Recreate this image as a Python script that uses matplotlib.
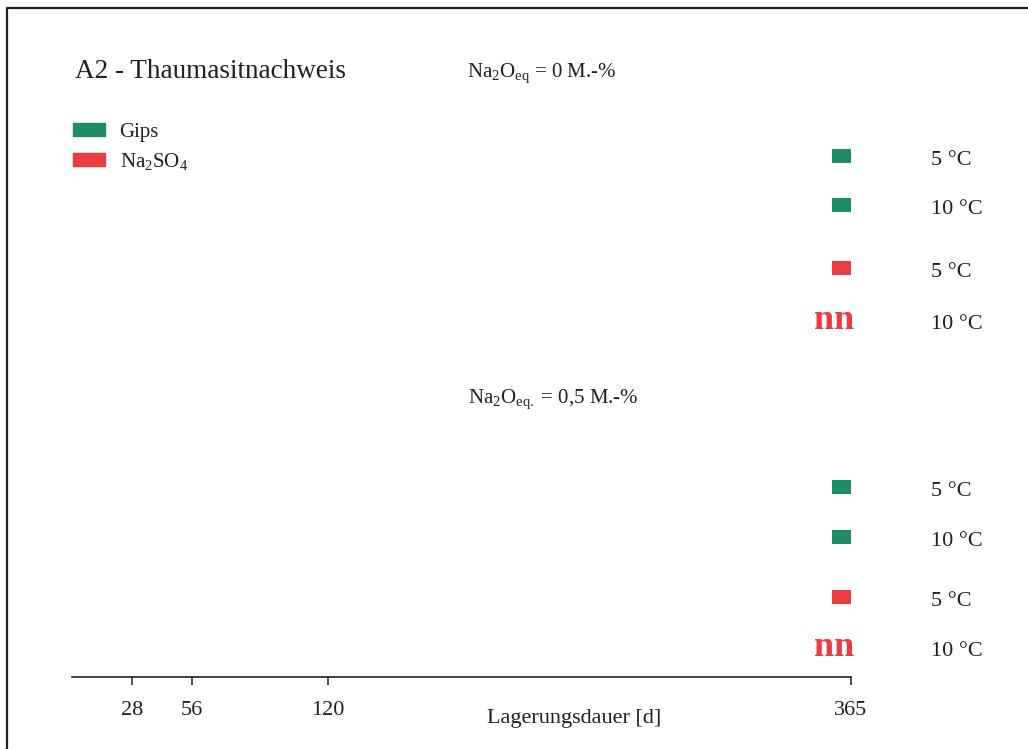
import numpy as np
import matplotlib.pyplot as plt
from matplotlib.lines import Line2D
from matplotlib.patches import Patch
import matplotlib.transforms as mtransforms

plt.rcParams['font.family'] = ['Liberation Serif', 'DejaVu Serif']
plt.rcParams['mathtext.fontset'] = 'custom'
plt.rcParams['mathtext.rm'] = 'Liberation Serif'
plt.rcParams['mathtext.it'] = 'Liberation Serif:italic'

TXT = '#231f20'
GREEN = '#1e8c69'
RED = '#eb3c41'

# storage times [d]
days = [28, 56, 120, 365]
last_day = 365

# sulfate source and storage temperature per row (upper block: 0 M.-%, lower block: 0,5 M.-%)
salts = ['Gips', 'Gips', 'Na2SO4', 'Na2SO4', 'Gips', 'Gips', 'Na2SO4', 'Na2SO4']
temps = ['5 °C', '10 °C', '5 °C', '10 °C', '5 °C', '10 °C', '5 °C', '10 °C']
# thaumasite found after 365 d? (False -> "nn", nicht nachgewiesen)
found = [True, True, True, False, True, True, True, False]

# vertical slots of the rows (axis units)
row_pos = [521, 472, 409, 357, 190, 140, 80, 30]

W, H = 1028, 749
fig = plt.figure(figsize=(W / 100, H / 100), dpi=100)
ax = fig.add_axes([72 / W, (H - 677) / H, (851 - 72) / W, (677 - 40) / H])
ax.set_xlim(0, last_day)
ax.set_ylim(0, 637)

for s in ['top', 'right', 'left']:
    ax.spines[s].set_visible(False)
ax.spines['bottom'].set_linewidth(1.2)
ax.spines['bottom'].set_color(TXT)
ax.set_yticks([])
ax.set_xticks(days)
ax.tick_params(axis='x', direction='out', length=6, width=1.1, color=TXT,
               labelsize=16, labelcolor=TXT, pad=11)

# flat rectangle marker, right edge on the data point
rect = [(-19, -6.5), (0, -6.5), (0, 6.5), (-19, 6.5), (-19, -6.5)]
colors = {'Gips': GREEN, 'Na2SO4': RED}

lab_tr = mtransforms.blended_transform_factory(fig.transFigure, ax.transData)
for salt, temp, ok, y in zip(salts, temps, found, row_pos):
    if ok:
        ax.plot([last_day], [y], linestyle='none', marker=rect, markersize=27.4,
                markeredgewidth=0, color=colors[salt], clip_on=False)
    else:
        ax.text(last_day + 1.5, y - 9, 'nn', ha='right', va='baseline', fontsize=26,
                fontweight='heavy', color=colors[salt], clip_on=False)
    ax.text(931 / W, y - 4.5, temp, transform=lab_tr, ha='left', va='center',
            fontsize=16, color=TXT)

fig.text(75 / W, (H - 78) / H, 'A2 - Thaumasitnachweis', fontsize=19.5,
         color=TXT, va='baseline')
fig.text(467 / W, (H - 77) / H, r'Na$_2$O$_{\mathrm{eq}}$ = 0 M.-%', fontsize=15,
         color=TXT, va='baseline')
fig.text(468 / W, (H - 403) / H, r'Na$_2$O$_{\mathrm{eq.}}$ = 0,5 M.-%', fontsize=15,
         color=TXT, va='baseline')
fig.text(574 / W, (H - 718) / H, 'Lagerungsdauer [d]', fontsize=16, color=TXT,
         ha='center', va='center')

handles = [Patch(color=GREEN, label='Gips'),
           Patch(color=RED, label=r'Na$_2$SO$_4$')]
fig.legend(handles=handles, loc='upper left', bbox_to_anchor=(72.7 / W, (H - 123) / H),
           frameon=False, fontsize=15, handlelength=1.55, handleheight=0.6,
           handletextpad=0.7, labelspacing=0.42, borderpad=0, borderaxespad=0,
           labelcolor=TXT)

# frame line along top and left edge
fig.add_artist(Line2D([7 / W, 7 / W, 1], [0, 1 - 7.5 / H, 1 - 7.5 / H],
                      transform=fig.transFigure, color=TXT, linewidth=1.6))

fig.savefig('out.png', dpi=100)
